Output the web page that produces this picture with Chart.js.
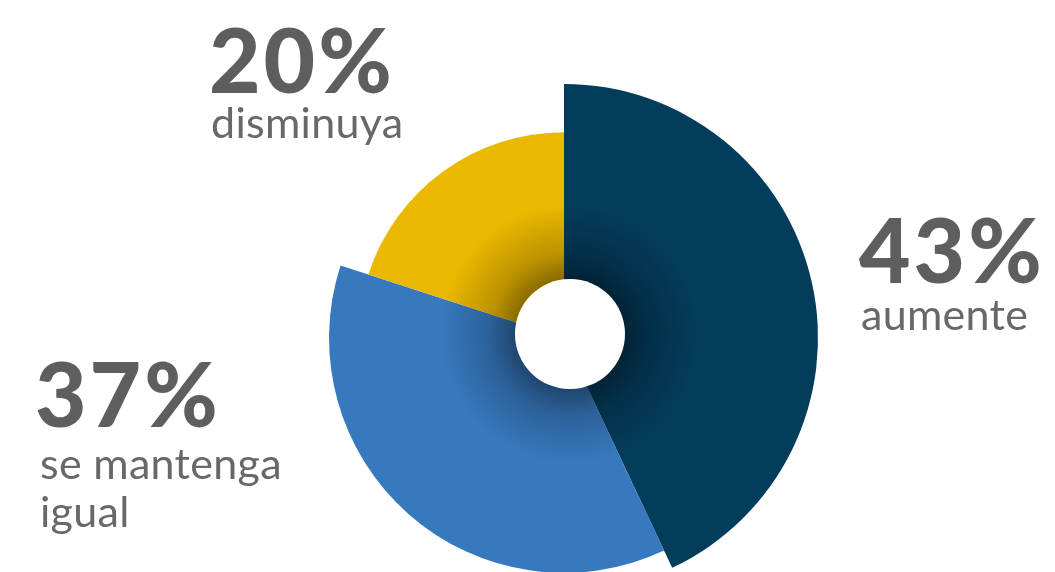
<!DOCTYPE html>
<html>
<head>
<meta charset="utf-8">
<script src="https://cdn.jsdelivr.net/npm/chart.js@4/dist/chart.umd.min.js"></script>
<style>
  html, body { margin: 0; padding: 0; background: #ffffff; }
  #wrap { position: relative; width: 1055px; height: 572px; overflow: hidden; }
  #chart { position: absolute; left: 0; top: 0; }
  .lbl { position: absolute; font-family: Lato, "Open Sans", sans-serif; white-space: nowrap; }
  .pct { font-weight: 900; font-size: 89px; line-height: 89px; color: #5e5e5e; letter-spacing: 3px; }
  .txt { font-weight: 400; font-size: 43px; line-height: 48px; color: #686868; letter-spacing: 0.3px; }
</style>
</head>
<body>
<div id="wrap">
  <canvas id="chart" width="1055" height="572"></canvas>
  <div class="lbl pct" id="p2" style="left:209px; top:14px;"></div>
  <div class="lbl txt" id="t2" style="left:211px; top:98px;"></div>
  <div class="lbl pct" id="p0" style="left:859px; top:204px;"></div>
  <div class="lbl txt" id="t0" style="left:861px; top:290px;"></div>
  <div class="lbl pct" id="p1" style="left:35px; top:348px;"></div>
  <div class="lbl txt" id="t1" style="left:40px; top:439px;"></div>
</div>
<script>
// ---- data ----
const categories = ['aumente', 'se mantenga igual', 'disminuya'];
const values = [43, 37, 20];
const percentLabels = ['43%', '37%', '20%'];
const labelLines = [['aumente'], ['se mantenga', 'igual'], ['disminuya']];

// ---- styles ----
const colors = ['#043c5c', '#3779bf', '#ebb800'];
const radiusFactor = [1, 0.925, 0.81];
const holeRadius = 55;

for (let i = 0; i < categories.length; i++) {
  document.getElementById('p' + i).textContent = percentLabels[i];
  const t = document.getElementById('t' + i);
  labelLines[i].forEach((line, k) => {
    if (k) t.appendChild(document.createElement('br'));
    t.appendChild(document.createTextNode(line));
  });
}

const varRadius = {
  id: 'varRadius',
  beforeDatasetsDraw(chart) {
    const meta = chart.getDatasetMeta(0);
    meta.data.forEach((arc, i) => {
      const base = chart.data.datasets[0].radius;
      arc.outerRadius = base * radiusFactor[i];
    });
  },
  afterDatasetsDraw(chart) {
    const meta = chart.getDatasetMeta(0);
    const arc = meta.data[0];
    const cx = arc.x + 6, cy = arc.y - 4;
    const r0 = holeRadius;
    const ctx = chart.ctx;
    ctx.save();
    const g = ctx.createRadialGradient(cx, cy, r0, cx, cy, r0 + 75);
    g.addColorStop(0, 'rgba(0,0,0,0.42)');
    g.addColorStop(0.35, 'rgba(0,0,0,0.2)');
    g.addColorStop(1, 'rgba(0,0,0,0)');
    ctx.beginPath();
    ctx.arc(cx, cy, r0 + 75, 0, Math.PI * 2);
    ctx.arc(cx, cy, r0, 0, Math.PI * 2, true);
    ctx.fillStyle = g;
    ctx.fill('evenodd');
    ctx.beginPath();
    ctx.arc(cx, cy, r0, 0, Math.PI * 2);
    ctx.fillStyle = '#ffffff';
    ctx.fill();
    ctx.restore();
  }
};

new Chart(document.getElementById('chart'), {
  type: 'doughnut',
  data: {
    labels: categories,
    datasets: [{
      data: values,
      backgroundColor: colors,
      borderWidth: 0,
      radius: 254,
      clip: false
    }]
  },
  options: {
    responsive: false,
    animation: false,
    cutout: 30,
    rotation: 0,
    layout: { padding: { left: 73, top: 104, right: 0, bottom: 0 } },
    plugins: { legend: { display: false }, tooltip: { enabled: false } }
  },
  plugins: [varRadius]
});
</script>
</body>
</html>
